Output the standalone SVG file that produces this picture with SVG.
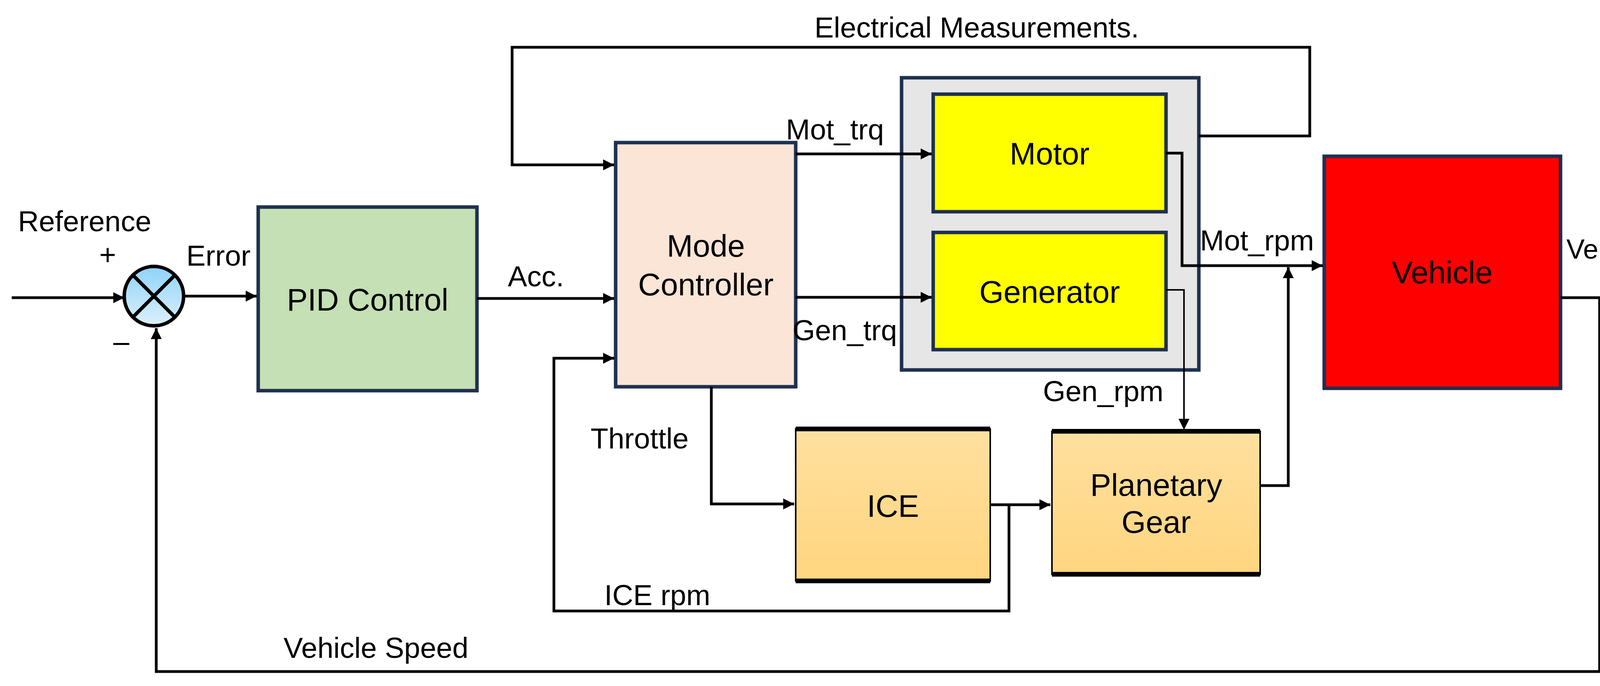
<svg xmlns="http://www.w3.org/2000/svg" width="4327" height="1756" viewBox="0 0 4327 1756">
<style>
.t{font-family:"Liberation Sans",Arial,sans-serif;font-size:74px;fill:#000}
.b{font-family:"Liberation Sans",Arial,sans-serif;font-size:80px;fill:#000;text-anchor:middle}
.box{stroke:#1F3050;stroke-width:9}
.ln{fill:none;stroke:#000;stroke-width:7}
</style>
<defs>
<marker id="ah" viewBox="0 0 10 10" refX="10" refY="5" markerWidth="4" markerHeight="4" orient="auto" markerUnits="strokeWidth"><path d="M0,0L10,5L0,10z" fill="#000"/></marker>
<marker id="ah2" viewBox="0 0 10 10" refX="10" refY="5" markerWidth="7" markerHeight="7" orient="auto" markerUnits="strokeWidth"><path d="M0,0L10,5L0,10z" fill="#000"/></marker>
<linearGradient id="gb" x1="0" y1="0" x2="0" y2="1"><stop offset="0" stop-color="#8FD3F8"/><stop offset="1" stop-color="#DDF0FD"/></linearGradient>
<linearGradient id="go" x1="0" y1="0" x2="0" y2="1"><stop offset="0" stop-color="#FFE09F"/><stop offset="1" stop-color="#FFD57F"/></linearGradient>
</defs>
<g id="sum">
<ellipse cx="394" cy="758" rx="76" ry="76" fill="url(#gb)" stroke="#000" stroke-width="9"/>
<path d="M340,704L448,812M448,704L340,812" stroke="#000" stroke-width="9"/>
</g>
<g id="pid"><rect class="box" x="661" y="530" width="560" height="470" fill="#C5E0B4"/><text class="b" x="941" y="795">PID Control</text></g>
<g id="mode"><rect class="box" x="1576" y="365" width="461" height="625" fill="#FBE5D6"/><text class="b" x="1807" y="657">Mode</text><text class="b" x="1807" y="756">Controller</text></g>
<g id="elec"><rect class="box" x="2308" y="199" width="761" height="748" fill="#E7E6E6"/></g>
<g id="motor"><rect class="box" x="2389" y="241" width="596" height="301" fill="#FFFF00"/><text class="b" x="2687" y="421">Motor</text></g>
<g id="gen"><rect class="box" x="2389" y="595" width="596" height="300" fill="#FFFF00"/><text class="b" x="2687" y="775">Generator</text></g>
<g id="ice"><rect x="2037" y="1098" width="498" height="389" fill="url(#go)" stroke="#000" stroke-width="4"/><path d="M2037,1098H2535M2037,1487H2535" stroke="#000" stroke-width="12"/><text class="b" x="2286" y="1323">ICE</text></g>
<g id="pg"><rect x="2693" y="1104" width="533" height="366" fill="url(#go)" stroke="#000" stroke-width="4"/><path d="M2693,1104H3226M2693,1470H3226" stroke="#000" stroke-width="12"/><text class="b" x="2960" y="1269">Planetary</text><text class="b" x="2960" y="1364">Gear</text></g>
<g id="veh"><rect class="box" x="3390" y="400" width="605" height="594" fill="#FF0000"/><text class="b" x="3692" y="725">Vehicle</text></g>
<g id="connectors">
<path class="ln" d="M30,762H318" marker-end="url(#ah)"/>
<path class="ln" d="M474,758H657" marker-end="url(#ah)"/>
<path class="ln" d="M1221,764H1572" marker-end="url(#ah)"/>
<path class="ln" d="M3069,348H3353V121H1311V422H1572" marker-end="url(#ah)"/>
<path class="ln" d="M2037,394H2385" marker-end="url(#ah)"/>
<path class="ln" d="M2037,761H2385" marker-end="url(#ah)"/>
<path class="ln" d="M2985,392H3026V680H3386" marker-end="url(#ah)"/>
<path class="ln" d="M2985,742H3031V1100" marker-end="url(#ah2)" style="stroke-width:4"/>
<path class="ln" d="M3226,1243H3298V684" marker-end="url(#ah)"/>
<path class="ln" d="M1821,990V1290H2033" marker-end="url(#ah)"/>
<path class="ln" d="M2535,1292H2689" marker-end="url(#ah)"/>
<path class="ln" d="M2583,1292V1564H1418V917H1572" marker-end="url(#ah)"/>
<path class="ln" d="M3995,762H4300" marker-end="url(#ah)"/>
<path class="ln" d="M4095,762V1719H400V840" marker-end="url(#ah)"/>
</g>
<g id="labels">
<text class="t" x="46" y="592">Reference</text>
<text class="t" x="254" y="678">+</text>
<text class="t" x="290" y="899">–</text>
<text class="t" x="477" y="680">Error</text>
<text class="t" x="1300" y="733">Acc.</text>
<text class="t" x="2085" y="96">Electrical Measurements.</text>
<text class="t" x="2012" y="357">Mot_trq</text>
<text class="t" x="2029" y="871">Gen_trq</text>
<text class="t" x="3072" y="641">Mot_rpm</text>
<text class="t" x="2670" y="1027">Gen_rpm</text>
<text class="t" x="1512" y="1148">Throttle</text>
<text class="t" x="1547" y="1549">ICE rpm</text>
<text class="t" x="726" y="1684">Vehicle Speed</text>
<text class="t" x="4010" y="662" style="font-size:70px">VehSpd</text>
</g>
</svg>
